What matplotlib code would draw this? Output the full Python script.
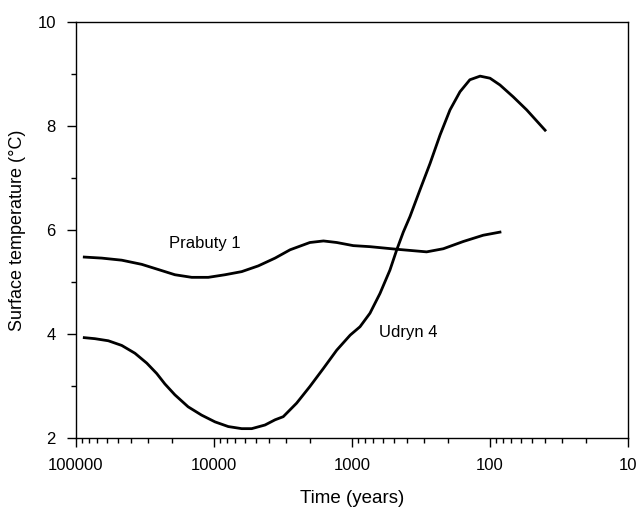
import matplotlib
matplotlib.use("Agg")
import matplotlib.pyplot as plt
from matplotlib.ticker import FixedLocator, FixedFormatter, LogLocator, NullFormatter

plt.rcParams['font.family'] = ['Liberation Sans', 'DejaVu Sans']

# Prabuty 1 borehole reconstruction (years before present, deg C)
prabuty_t = [87100, 65100, 46600, 33400, 25300, 19200, 14500, 11000, 8320, 6300,
             4780, 3610, 2810, 2020, 1610, 1290, 979, 741, 474, 288, 218, 156, 112, 84.7]
prabuty_temp = [5.48, 5.46, 5.42, 5.34, 5.24, 5.14, 5.09, 5.09, 5.14, 5.20,
                5.31, 5.46, 5.62, 5.76, 5.79, 5.76, 5.70, 5.68, 5.63, 5.58, 5.64, 5.78, 5.90, 5.96]

# Udryn 4 borehole reconstruction
udryn_t = [87100, 72800, 58300, 46600, 37400, 30700, 26000, 22700, 19200, 15400,
           12300, 9830, 7880, 6300, 5330, 4270, 3610, 3150, 2520, 2020,
           1610, 1290, 1030, 875, 741, 627, 531, 474, 425, 380,
           322, 272, 230, 195, 165, 140, 118, 100, 84.7, 67.8, 54.2, 39.9]
udryn_temp = [3.93, 3.91, 3.87, 3.78, 3.63, 3.44, 3.24, 3.04, 2.83, 2.60,
              2.44, 2.31, 2.22, 2.18, 2.18, 2.25, 2.35, 2.41, 2.67, 2.99,
              3.34, 3.69, 3.98, 4.14, 4.40, 4.78, 5.23, 5.62, 5.96, 6.26,
              6.77, 7.28, 7.83, 8.31, 8.66, 8.89, 8.96, 8.92, 8.79, 8.56, 8.31, 7.92]

xticks = [100000, 10000, 1000, 100, 10]
xtick_labels = ["100000", "10000", "1000", "100", "10"]
yticks = [2, 4, 6, 8, 10]
yminor = [3, 5, 7, 9]

fig = plt.figure(figsize=(6.37, 5.13), dpi=100)
ax = fig.add_axes([0.1193, 0.1462, 0.8666, 0.8108])

ax.plot(prabuty_t, prabuty_temp, color="black", lw=2.0, solid_joinstyle="round")
ax.plot(udryn_t, udryn_temp, color="black", lw=2.0, solid_joinstyle="round")

ax.set_xscale("log")
ax.set_xlim(100000, 10)
ax.set_ylim(2, 10)

ax.xaxis.set_major_locator(FixedLocator(xticks))
ax.xaxis.set_major_formatter(FixedFormatter(xtick_labels))
ax.xaxis.set_minor_locator(LogLocator(base=10, subs=range(2, 10)))
ax.xaxis.set_minor_formatter(NullFormatter())
ax.set_yticks(yticks)
ax.set_yticks(yminor, minor=True)

ax.tick_params(which="major", direction="out", length=6.5, width=1, labelsize=12, pad=8)
ax.tick_params(which="minor", direction="out", length=3.5, width=1)
ax.tick_params(top=False, right=False)
for s in ax.spines.values():
    s.set_linewidth(1)

ax.set_xlabel("Time (years)", fontsize=13.5, labelpad=12)
ax.set_ylabel("Surface temperature (°C)", fontsize=13, labelpad=8)

ax.text(11600, 5.75, "Prabuty 1", fontsize=12, ha="center", va="center")
ax.text(393, 4.02, "Udryn 4", fontsize=12, ha="center", va="center")

fig.savefig("out.png", dpi=100)
